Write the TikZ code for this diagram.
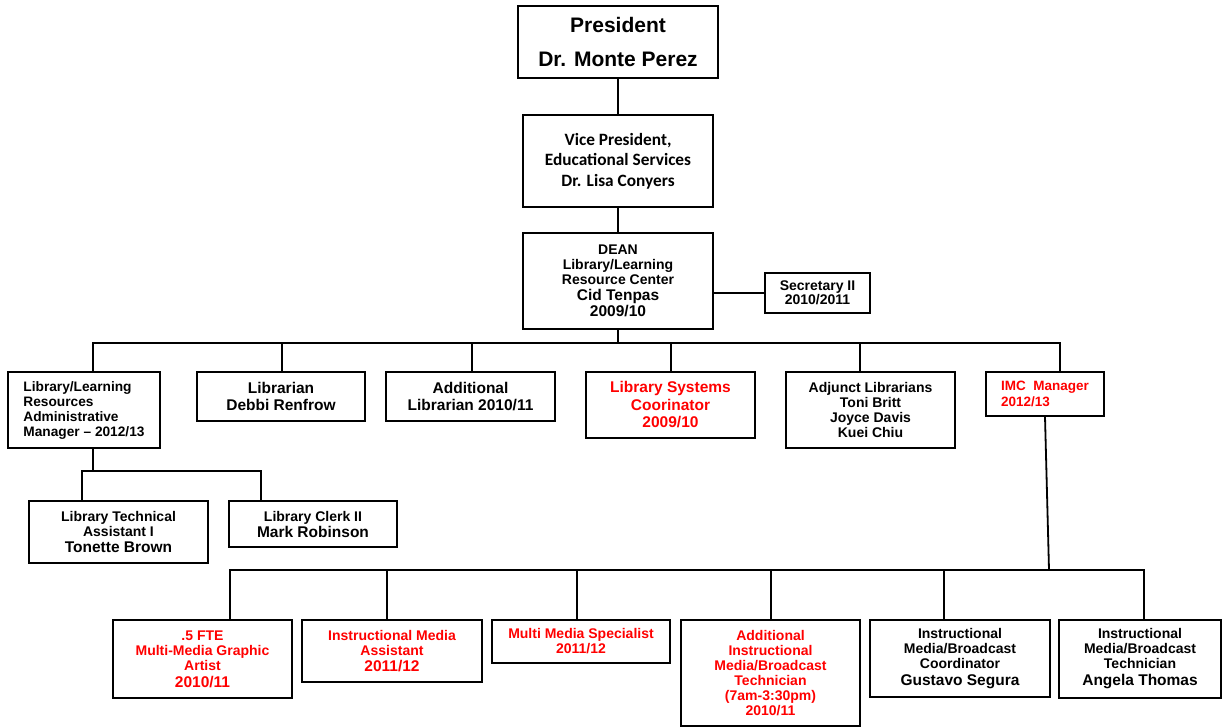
\documentclass[tikz,border=0pt]{standalone}
\usepackage{fontspec}
\setmainfont{Liberation Sans}
\newfontfamily\vpfont{Carlito}
\definecolor{newpos}{HTML}{FF0000}
\newcommand{\bigline}[1]{{\fontsize{15.5}{17}\selectfont #1}}
\begin{document}
\begin{tikzpicture}[x=1pt,y=-1pt,
  box/.style={draw, line width=1.8pt, inner sep=0pt, align=center,
    font=\bfseries\fontsize{14}{15}\selectfont},
  small/.style={font=\bfseries\fontsize{14}{15}\selectfont},
  large/.style={font=\bfseries\fontsize{15.5}{17}\selectfont},
  newjob/.style={text=newpos},
  wire/.style={line width=1.8pt}]
\useasboundingbox (0,0) rectangle (1222,727);

% --- top of the chain
\node[box, line width=2.3pt, minimum width=200pt, minimum height=72pt,
      font=\bfseries\fontsize{21}{34}\selectfont] (pres) at (618,42)
      {President\\Dr. Monte Perez};
\node[box, minimum width=190pt, minimum height=92pt,
      font=\vpfont\bfseries\fontsize{17.3}{20.5}\selectfont] (vp) at (618,161)
      {Vice President,\\Educational Services\\Dr. Lisa Conyers};
\node[box, line width=2.8pt, minimum width=190pt, minimum height=96pt, small] (dean) at (618,281)
      {DEAN\\Library/Learning\\Resource Center\\[1pt]\bigline{Cid Tenpas}\\[1pt]\bigline{2009/10}};
\node[box, line width=1.4pt, minimum width=105pt, minimum height=40pt,
      font=\bfseries\fontsize{14}{14}\selectfont] (sec) at (817.5,293)
      {Secretary II\\2010/2011};

% --- second level
\node[box, minimum width=152pt, minimum height=76pt, align=left,
      font=\bfseries\fontsize{13.7}{15}\selectfont] (adm) at (84,410)
      {Library/Learning\\Resources\\Administrative\\Manager – 2012/13};
\node[box, minimum width=168pt, minimum height=49pt, large] (lib) at (281,396.5)
      {Librarian\\Debbi Renfrow};
\node[box, minimum width=169pt, minimum height=49pt, large] (addl) at (470.5,396.5)
      {Additional\\Librarian 2010/11};
\node[box, newjob, minimum width=169pt, minimum height=66pt,
      font=\bfseries\fontsize{15.5}{17.5}\selectfont] (sys) at (670.5,405)
      {Library Systems\\Coorinator\\2009/10};
\node[box, minimum width=169pt, minimum height=76pt, small] (adj) at (870.5,410)
      {Adjunct Librarians\\Toni Britt\\Joyce Davis\\Kuei Chiu};
\node[box, newjob, minimum width=118pt, minimum height=44pt, align=left,
      font=\bfseries\fontsize{13.5}{16}\selectfont] (imc) at (1045,394)
      {IMC\ \ Manager\\2012/13};

% --- staff under the administrative manager
\node[box, minimum width=179pt, minimum height=62pt, small] (tech) at (118.5,532)
      {Library Technical\\Assistant I\\[1pt]\bigline{Tonette Brown}};
\node[box, minimum width=168pt, minimum height=46pt, small] (clerk) at (313,524)
      {Library Clerk II\\[1pt]\bigline{Mark Robinson}};

% --- staff under the IMC manager
\node[box, newjob, minimum width=179pt, minimum height=78pt] (fte) at (202.5,659)
      {.5 FTE\\Multi-Media Graphic\\Artist\\[2pt]\bigline{2010/11}};
\node[box, newjob, minimum width=180pt, minimum height=62pt] (ima) at (392,651)
      {Instructional Media\\Assistant\\[1pt]\bigline{2011/12}};
\node[box, newjob, minimum width=178pt, minimum height=43pt] (mms) at (581,641.5)
      {Multi Media Specialist\\2011/12};
\node[box, newjob, minimum width=179pt, minimum height=106pt] (addtech) at (770.5,673)
      {Additional\\Instructional\\Media/Broadcast\\Technician\\(7am-3:30pm)\\2010/11};
\node[box, minimum width=180pt, minimum height=77pt] (coord) at (960,658.5)
      {Instructional\\Media/Broadcast\\Coordinator\\[2pt]\bigline{Gustavo Segura}};
\node[box, minimum width=162pt, minimum height=78pt] (ang) at (1140,659)
      {Instructional\\Media/Broadcast\\Technician\\[2pt]\bigline{Angela Thomas}};

% --- connectors
\draw[wire] (pres) -- (vp);
\draw[wire] (vp) -- (dean);
\draw[wire] (dean.east |- sec.west) -- (sec.west);

\coordinate (d1) at (93,343);
\coordinate (d2) at (282,343);
\coordinate (d3) at (472,343);
\coordinate (d4) at (671,343);
\coordinate (d5) at (860,343);
\coordinate (d6) at (1060,343);
\draw[wire] (dean.south) -- (dean.south |- d1);
\draw[wire] (d1 |- adm.north) -- (d1) -- (d6) -- (d6 |- imc.north);
\draw[wire] (d2) -- (d2 |- lib.north);
\draw[wire] (d3) -- (d3 |- addl.north);
\draw[wire] (d4) -- (d4 |- sys.north);
\draw[wire] (d5) -- (d5 |- adj.north);

\coordinate (s0) at (93,471);
\coordinate (s1) at (82,471);
\coordinate (s2) at (261,471);
\draw[wire] (s0 |- adm.south) -- (s0);
\draw[wire] (s1 |- tech.north) -- (s1) -- (s2) -- (s2 |- clerk.north);

\coordinate (m0) at (1049,570);
\coordinate (e1) at (230,570);
\coordinate (e2) at (387,570);
\coordinate (e3) at (577,570);
\coordinate (e4) at (771,570);
\coordinate (e5) at (944,570);
\coordinate (e6) at (1144,570);
\draw[wire] (imc.south) -- (m0);
\draw[wire] (e1 |- fte.north) -- (e1) -- (e6) -- (e6 |- ang.north);
\draw[wire] (e2) -- (e2 |- ima.north);
\draw[wire] (e3) -- (e3 |- mms.north);
\draw[wire] (e4) -- (e4 |- addtech.north);
\draw[wire] (e5) -- (e5 |- coord.north);
\end{tikzpicture}
\end{document}
